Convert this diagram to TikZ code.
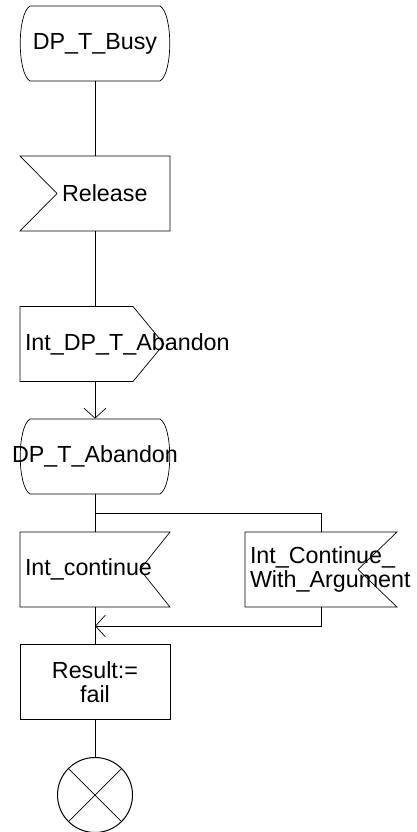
\documentclass[tikz,border=0pt]{standalone}
\usepackage{fontspec}
\setmainfont{Liberation Sans}
\usetikzlibrary{arrows.meta}
\hyphenpenalty=10000
\exhyphenpenalty=10000

\begin{document}
\begin{tikzpicture}[x=1pt,y=-1pt,line width=0.7pt,
  >={Straight Barb[length=10pt,width=22pt]},
  sdl/.style={font=\fontsize{23.3}{24.5}\selectfont,minimum height=75pt,inner ysep=0pt,inner xsep=0pt},
  sig/.style={sdl,align=left,text width=#1},
  sig/.default=140pt]
  \useasboundingbox (0,0) rectangle (416,832);
  % symbols
  \node[sdl] (busy) at (95,43.5) {DP\_T\_Busy};
  \node[sig=66pt] (release) at (95,193.5) {Release};
  \node[sig] (intab) at (95,344) {Int\_DP\_T\_Abandon};
  \node[sdl] (aband) at (95,456.5) {DP\_T\_Abandon};
  \node[sig] (intc) at (95,569.5) {Int\_continue};
  \node[sig=142pt] (intcw) at (321,569.5) {Int\_Continue\_\\With\_Argument};
  \node[sdl,draw,minimum width=150pt,align=center] (result) at (95,682) {Result:=\\fail};
  \node[circle,draw,line width=1pt,minimum size=75pt,inner sep=0pt] (stop) at (95,795) {};
  \coordinate (split) at (95,513);
  \coordinate (merge) at (95,626);
  % outlines
  \foreach \n in {busy,aband}
    \draw ([shift={(-65,-37.5)}]\n.center) -- ++(130,0)
      .. controls +(13,7.5) and +(13,-7.5) .. ++(0,75)
      -- ++(-130,0)
      .. controls +(-13,-7.5) and +(-13,7.5) .. ++(0,-75) -- cycle;
  \draw ([shift={(-75,-37.5)}]release.center) -- ++(150,0) -- ++(0,75)
    -- ++(-150,0) -- ++(37,-37.5) -- cycle;
  \draw ([shift={(-75,-37.5)}]intab.center) -- ++(113,0) -- ++(31,37.5)
    -- ++(-31,37.5) -- ++(-113,0) -- cycle;
  \draw ([shift={(-75,-37.5)}]intc.center) -- ++(150,0) -- ++(-30,37.5)
    -- ++(30,37.5) -- ++(-150,0) -- cycle;
  \draw ([shift={(-76,-37.5)}]intcw.center) -- ++(152,0) -- ++(-39,37.5)
    -- ++(39,37.5) -- ++(-152,0) -- cycle;
  \draw (stop.north west) -- (stop.south east)
    (stop.north east) -- (stop.south west);
  % flow lines
  \draw (busy) -- (release);
  \draw (release) -- (intab);
  \draw[->] (intab) -- (aband);
  \draw (aband) -- (intc);
  \draw (split) -| (intcw);
  \draw[->] (intcw) |- (merge);
  \draw (intc) -- (result);
  \draw (result) -- (stop);
\end{tikzpicture}
\end{document}
